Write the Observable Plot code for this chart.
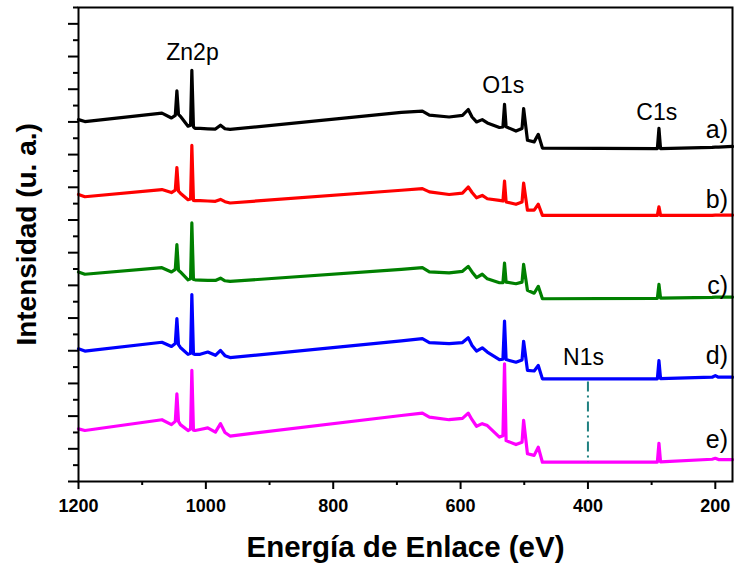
<!DOCTYPE html>
<html>
<head>
<meta charset="utf-8">
<script src="https://cdn.jsdelivr.net/npm/d3@7"></script>
<script src="https://cdn.jsdelivr.net/npm/@observablehq/plot@0.6"></script>
<style>
  html, body { margin: 0; padding: 0; background: #ffffff; }
  #chart svg { display: block; }
</style>
</head>
<body>
<div id="chart"></div>
<script>
// Binding energy grid (eV)
const energies = [1200, 1190, 1069, 1054, 1048, 1045.5, 1043, 1040, 1028, 1024, 1022, 1019.5, 1017, 1009, 997, 985, 977, 970, 962,
  693, 660, 649, 618, 597, 588, 582, 575, 566, 558, 539, 533.5, 531, 528.5, 513, 503.5, 501, 495, 484.5, 478, 471.5,
  291, 288.5, 286, 205, 200, 195, 173];

// Stacked intensities (u. a.) for each spectrum
const seriesA = [11.07, 11.01, 11.27, 11.12, 11.20, 11.95, 11.23, 11.17, 10.87, 10.90, 12.58, 10.85, 10.80, 10.80, 10.79, 10.78, 10.90, 10.79, 10.77,
  11.29, 11.33, 11.21, 11.15, 11.20, 11.38, 11.15, 11.00, 11.07, 10.97, 10.83, 10.85, 11.54, 10.85, 10.72, 10.80, 11.41, 10.44, 10.39, 10.62, 10.20,
  10.18, 10.80, 10.18, 10.22, 10.23, 10.23, 10.25];
const seriesB = [8.78, 8.71, 8.93, 8.84, 8.91, 9.60, 8.88, 8.82, 8.62, 8.64, 10.28, 8.60, 8.59, 8.59, 8.58, 8.57, 8.63, 8.56, 8.52,
  8.91, 8.96, 8.86, 8.78, 8.82, 9.01, 8.84, 8.68, 8.75, 8.65, 8.60, 8.58, 9.19, 8.55, 8.48, 8.55, 9.13, 8.30, 8.30, 8.48, 8.14,
  8.14, 8.40, 8.14, 8.14, 8.15, 8.15, 8.15];
const seriesC = [6.41, 6.34, 6.54, 6.41, 6.49, 7.25, 6.46, 6.41, 6.17, 6.20, 7.91, 6.18, 6.17, 6.16, 6.15, 6.15, 6.22, 6.14, 6.12,
  6.49, 6.54, 6.41, 6.38, 6.43, 6.58, 6.41, 6.24, 6.34, 6.20, 6.08, 6.08, 6.68, 6.10, 6.05, 6.10, 6.64, 5.85, 5.76, 5.97, 5.59,
  5.60, 6.03, 5.61, 5.63, 5.64, 5.64, 5.64];
const seriesD = [4.06, 3.99, 4.26, 4.13, 4.22, 4.98, 4.19, 4.10, 3.89, 3.92, 5.72, 3.90, 3.89, 3.89, 3.96, 3.86, 4.01, 3.85, 3.79,
  4.30, 4.37, 4.25, 4.22, 4.25, 4.40, 4.16, 3.99, 4.09, 3.96, 3.73, 3.74, 4.91, 3.73, 3.65, 3.72, 4.29, 3.40, 3.38, 3.55, 3.14,
  3.14, 3.70, 3.15, 3.19, 3.24, 3.19, 3.19];
const seriesE = [1.61, 1.56, 1.89, 1.74, 1.84, 2.68, 1.84, 1.74, 1.56, 1.60, 3.40, 1.57, 1.56, 1.59, 1.64, 1.51, 1.77, 1.50, 1.39,
  2.02, 2.09, 1.97, 1.89, 1.93, 2.09, 1.89, 1.69, 1.77, 1.71, 1.36, 1.40, 3.60, 1.25, 1.13, 1.20, 1.87, 0.85, 0.80, 1.05, 0.59,
  0.59, 1.17, 0.60, 0.68, 0.71, 0.67, 0.67];

const seriesNames = ["a)", "b)", "c)", "d)", "e)"];
const seriesColors = ["#000000", "#ff0000", "#008000", "#0000ff", "#ff00ff"];
const seriesLabelEnergy = 180;
const seriesLabelLevel = [10.50, 8.38, 5.74, 3.58, 1.03];

// Peak annotations
const peakNames = ["Zn2p", "O1s", "C1s", "N1s"];
const peakEnergy = [1021, 533, 292, 407];
const peakLevel = [12.89, 11.87, 11.07, 3.55];

// N1s marker line
const n1sEnergy = [400];
const n1sFrom = [3.04];
const n1sTo = [0.59];

// Ticks
const xTicksMajor = [1200, 1000, 800, 600, 400, 200];
const xTicksMinor = [1100, 900, 700, 500, 300];
const yTicksMajor = [0, 1, 2, 3, 4, 5, 6, 7, 8, 9, 10, 11, 12, 13, 14];
const yTicksMinor = [0.5, 1.5, 2.5, 3.5, 4.5, 5.5, 6.5, 7.5, 8.5, 9.5, 10.5, 11.5, 12.5, 13.5, 14.5];

const xTitle = "Energía de Enlace (eV)";
const yTitle = "Intensidad (u. a.)";

const allSeries = [seriesA, seriesB, seriesC, seriesD, seriesE];
const rows = [];
allSeries.forEach((vals, i) => {
  vals.forEach((v, j) => rows.push({energy: energies[j], value: v, series: seriesNames[i]}));
});
const seriesLabels = seriesNames.map((s, i) => ({name: s, energy: seriesLabelEnergy, level: seriesLabelLevel[i]}));
const peaks = peakNames.map((p, i) => ({name: p, energy: peakEnergy[i], level: peakLevel[i]}));
const n1s = n1sEnergy.map((e, i) => ({energy: e, y1: n1sFrom[i], y2: n1sTo[i]}));

const font = "'Liberation Sans', Arial, Helvetica, sans-serif";

const chart = Plot.plot({
  width: 734,
  height: 565,
  marginTop: 7,
  marginBottom: 84,
  marginLeft: 78,
  marginRight: 2,
  style: {fontFamily: font, background: "#ffffff", color: "#000000", overflow: "visible"},
  x: {domain: [1200, 173], label: null},
  y: {domain: [0, 14.5], label: null},
  color: {domain: seriesNames, range: seriesColors},
  marks: [
    Plot.line(rows, {x: "energy", y: "value", z: "series", stroke: "series", strokeWidth: 3.2, strokeLinejoin: "round", strokeLinecap: "round"}),
    Plot.ruleX(n1s, {x: "energy", y1: "y1", y2: "y2", stroke: "#1f8080", strokeWidth: 2, strokeDasharray: "10,4,2,4"}),
    Plot.text(peaks, {x: "energy", y: "level", text: "name", fontSize: 23, lineAnchor: "bottom", textAnchor: "middle", fill: "#000000"}),
    Plot.text(seriesLabels, {x: "energy", y: "level", text: "name", fontSize: 25, lineAnchor: "bottom", textAnchor: "end", fill: "#000000"}),
    Plot.frame({stroke: "#000000", strokeWidth: 2}),
    Plot.axisX(xTicksMajor, {anchor: "bottom", tickSize: 8, tickPadding: 10, strokeWidth: 2, fontSize: 18, fontWeight: "bold", tickFormat: d => String(d), label: null}),
    Plot.axisX(xTicksMinor, {anchor: "bottom", tickSize: 4, strokeWidth: 2, tickFormat: () => "", label: null}),
    Plot.axisY(yTicksMajor, {anchor: "left", tickSize: 10, strokeWidth: 2, tickFormat: () => "", label: null}),
    Plot.axisY(yTicksMinor, {anchor: "left", tickSize: 5, strokeWidth: 2, tickFormat: () => "", label: null}),
    Plot.text([xTitle], {frameAnchor: "bottom", text: d => d, dy: 75, fontSize: 29.5, fontWeight: "bold", lineAnchor: "bottom", textAnchor: "middle", fill: "#000000"}),
    Plot.text([yTitle], {frameAnchor: "left", y: () => 7.56, text: d => d, dx: -43, rotate: -90, fontSize: 28, fontWeight: "bold", lineAnchor: "bottom", textAnchor: "middle", fill: "#000000"})
  ]
});
document.getElementById("chart").appendChild(chart);
</script>
</body>
</html>
